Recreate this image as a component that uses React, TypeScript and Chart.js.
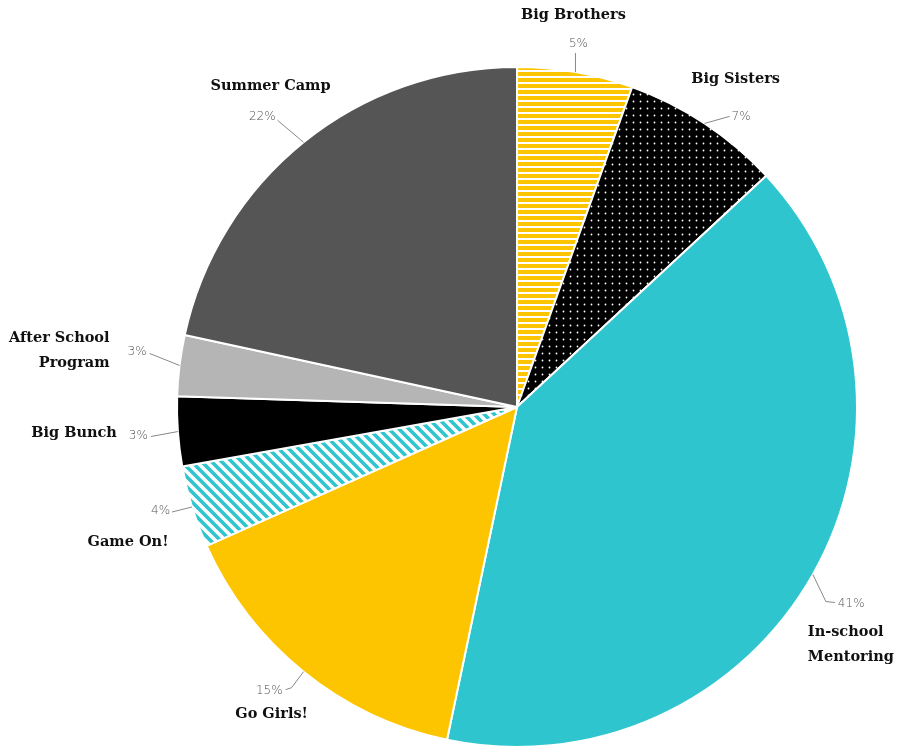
import React, { useEffect, useRef } from "react";
import { Chart, registerables } from "chart.js";

Chart.register(...registerables);

// ---- data ----
const categories = [
  "Big Brothers",
  "Big Sisters",
  "In-school Mentoring",
  "Go Girls!",
  "Game On!",
  "Big Bunch",
  "After School Program",
  "Summer Camp",
];
// shares (percent)
const shares = [5.5, 7.6, 40.2, 15.0, 3.9, 3.3, 2.9, 21.6];
// printed percentage labels
const pctLabels = ["5%", "7%", "41%", "15%", "4%", "3%", "3%", "22%"];
const nameLines = [
  ["Big Brothers"],
  ["Big Sisters"],
  ["In-school", "Mentoring"],
  ["Go Girls!"],
  ["Game On!"],
  ["Big Bunch"],
  ["After School", "Program"],
  ["Summer Camp"],
];

// ---- label layout (offsets from the slice's outer mid-point) ----
type Layout = {
  leader: [number, number][];
  pct: [number, number, CanvasTextAlign];
  name: [number, number, CanvasTextAlign];
};
const layouts: Layout[] = [
  { leader: [[0, -19]], pct: [3, -28, "center"], name: [-2, -57, "center"] },
  { leader: [[25, -7]], pct: [27, -7, "left"], name: [31, -44, "center"] },
  { leader: [[13, 27], [22, 28]], pct: [25, 29, "left"], name: [-5, 58, "left"] },
  { leader: [[-12, 16], [-18, 18]], pct: [-21, 19, "right"], name: [-32, 43, "center"] },
  { leader: [[-20, 5]], pct: [-22, 4, "right"], name: [-64, 35, "center"] },
  { leader: [[-27, 5]], pct: [-30, 4, "right"], name: [-61, 2, "right"] },
  { leader: [[-30, -12]], pct: [-33, -14, "right"], name: [-70, -27, "right"] },
  { leader: [[-26, -22]], pct: [-28, -25, "right"], name: [-33, -56, "center"] },
];

const YELLOW = "#fdc400";
const TEAL = "#2ec5cf";

function makePattern(kind: string): CanvasPattern | string {
  const c = document.createElement("canvas");
  const g = c.getContext("2d")!;
  if (kind === "hstripe") {
    c.width = 6;
    c.height = 6;
    g.fillStyle = "#ffffff";
    g.fillRect(0, 0, 6, 6);
    g.fillStyle = YELLOW;
    g.fillRect(0, 0, 6, 4);
  } else if (kind === "dots") {
    c.width = 7;
    c.height = 7;
    g.fillStyle = "#000000";
    g.fillRect(0, 0, 7, 7);
    g.fillStyle = "#ffffff";
    g.beginPath();
    g.arc(3.5, 3.5, 0.9, 0, Math.PI * 2);
    g.fill();
  } else if (kind === "dstripe") {
    const s = 10;
    c.width = s;
    c.height = s;
    g.fillStyle = "#ffffff";
    g.fillRect(0, 0, s, s);
    g.strokeStyle = TEAL;
    g.lineWidth = 3.6;
    g.beginPath();
    g.moveTo(-s, -s);
    g.lineTo(2 * s, 2 * s);
    g.moveTo(0, -s);
    g.lineTo(2 * s, s);
    g.moveTo(-s, 0);
    g.lineTo(s, 2 * s);
    g.stroke();
  }
  return g.createPattern(c, "repeat") as CanvasPattern;
}

const labelPlugin = {
  id: "outerLabels",
  afterDraw(chart: any) {
    const ctx = chart.ctx as CanvasRenderingContext2D;
    const meta = chart.getDatasetMeta(0);
    meta.data.forEach((arc: any, i: number) => {
      const p = arc.getProps(["x", "y", "startAngle", "endAngle", "outerRadius"], true);
      const mid = (p.startAngle + p.endAngle) / 2;
      const ex = p.x + Math.cos(mid) * p.outerRadius;
      const ey = p.y + Math.sin(mid) * p.outerRadius;
      const L = layouts[i];
      ctx.save();
      ctx.strokeStyle = "#7a7a7a";
      ctx.lineWidth = 0.9;
      ctx.beginPath();
      ctx.moveTo(ex, ey);
      L.leader.forEach(([dx, dy]) => ctx.lineTo(ex + dx, ey + dy));
      ctx.stroke();
      ctx.fillStyle = "#555555";
      ctx.font = '300 12px "DejaVu Sans"';
      ctx.textBaseline = "middle";
      ctx.textAlign = L.pct[2];
      ctx.fillText(pctLabels[i], ex + L.pct[0], ey + L.pct[1]);
      ctx.fillStyle = "#111111";
      ctx.font = 'bold 14.5px "DejaVu Serif"';
      ctx.textAlign = L.name[2];
      nameLines[i].forEach((line, k) => {
        ctx.fillText(line, ex + L.name[0], ey + L.name[1] + k * 25);
      });
      ctx.restore();
    });
  },
};

export default function App() {
  const ref = useRef<HTMLCanvasElement>(null);
  useEffect(() => {
    document.body.style.margin = "0";
    const colors = [
      makePattern("hstripe"),
      makePattern("dots"),
      TEAL,
      YELLOW,
      makePattern("dstripe"),
      "#000000",
      "#b5b5b5",
      "#555555",
    ];
    const chart = new Chart(ref.current!, {
      type: "pie",
      data: {
        labels: categories,
        datasets: [
          {
            data: shares,
            backgroundColor: colors as any,
            borderColor: "#ffffff",
            borderWidth: 2,
          },
        ],
      },
      options: {
        responsive: false,
        animation: false,
        devicePixelRatio: 1,
        layout: { padding: { left: 175, right: 40, top: 66, bottom: 4 } },
        plugins: {
          legend: { display: false },
          tooltip: { enabled: false },
        },
      },
      plugins: [labelPlugin],
    });
    return () => chart.destroy();
  }, []);
  return (
    <div style={{ position: "absolute", left: 0, top: 0, width: 899, height: 752, background: "#fff" }}>
      <canvas ref={ref} width={899} height={752} />
    </div>
  );
}
